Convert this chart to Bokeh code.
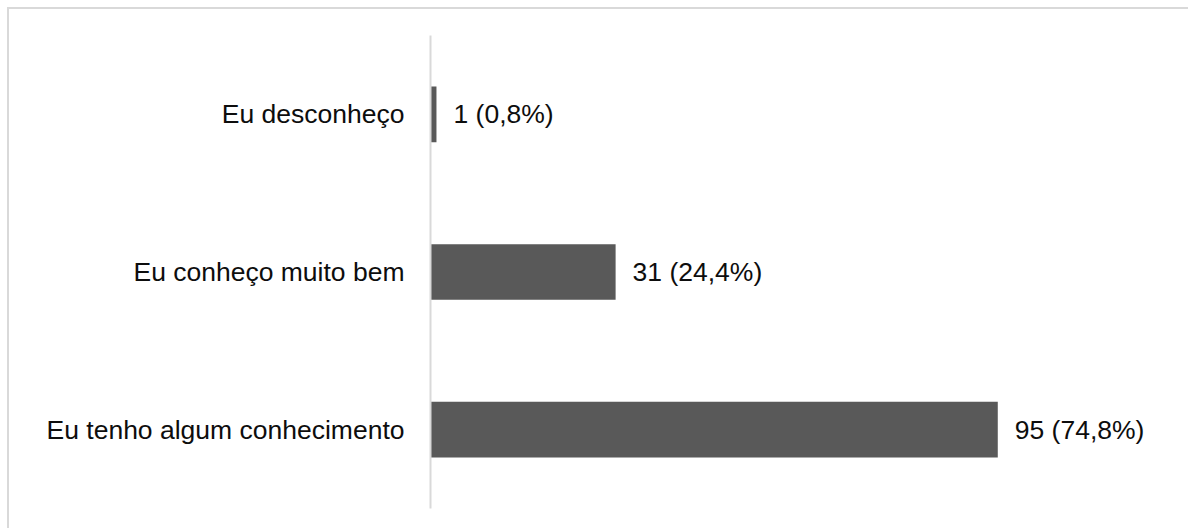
from bokeh.plotting import figure
from bokeh.models import ColumnDataSource, Range1d
from bokeh.core.properties import value
from bokeh.embed import file_html
from bokeh.resources import INLINE

# Survey answers (bottom to top) with counts and shares
categories = ["Eu tenho algum conhecimento", "Eu conheço muito bem", "Eu desconheço"]
counts = [95, 31, 1]
shares = ["74,8%", "24,4%", "0,8%"]
labels = [f"{c} ({s})" for c, s in zip(counts, shares)]

FONT = "Liberation Sans"
TEXT_COLOR = "#0d0d0d"
BAR_COLOR = "#595959"
EDGE = "#d9d9d9"

source = ColumnDataSource(data=dict(cat=categories, count=counts, label=labels))

p = figure(
    width=1188, height=528,
    y_range=categories,
    x_range=Range1d(0, 125.6),
    x_axis_location=None,
    output_backend="svg",
    toolbar_location=None,
    min_border_left=430, min_border_right=8,
    min_border_top=35, min_border_bottom=20,
)
p.outline_line_color = None
p.xgrid.visible = False
p.ygrid.visible = False

# Transparent canvas so the chart-area edge (top and left) drawn by CSS shows
p.border_fill_color = None
p.background_fill_color = None
p.styles = {
    "background": (
        f"linear-gradient({EDGE}, {EDGE}) 7px 7px / 1181px 2px no-repeat, "
        f"linear-gradient({EDGE}, {EDGE}) 7px 7px / 2px 521px no-repeat, #ffffff"
    )
}

p.hbar(y="cat", right="count", left=0, height=0.353, source=source,
       fill_color=BAR_COLOR, line_color=None)

p.text(x="count", y="cat", text="label", source=source,
       x_offset=17, text_baseline="middle", text_align="left",
       text_font=value(FONT), text_font_size="26.5px", text_color=TEXT_COLOR)

yax = p.yaxis[0]
yax.axis_line_color = EDGE
yax.axis_line_width = 2
yax.major_tick_line_color = None
yax.minor_tick_line_color = None
yax.major_tick_out = 0
yax.major_tick_in = 0
yax.major_label_standoff = 26
yax.major_label_text_font = FONT
yax.major_label_text_font_size = "26.5px"
yax.major_label_text_color = TEXT_COLOR

open("out.html", "w").write(file_html(p, INLINE))
